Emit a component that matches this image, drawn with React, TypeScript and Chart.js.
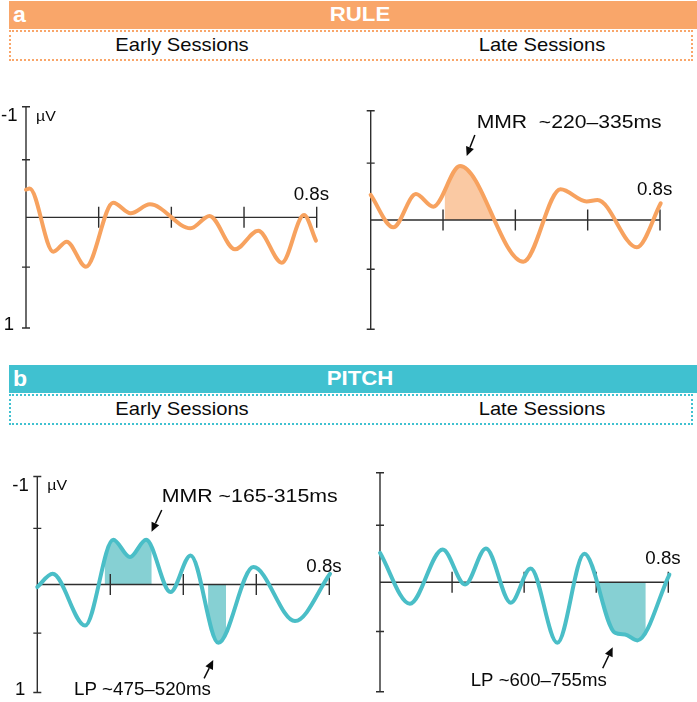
import React, { useEffect, useRef } from 'react';
import { Chart, registerables } from 'chart.js';

Chart.register(...registerables);

const W = 697;
const H = 702;
const FONT = '"Liberation Sans", Arial, Helvetica, sans-serif';

// ---------------- data (time in s, amplitude in µV; negative drawn up) ----------------
const ruleEarlyTime = [0, 0.01, 0.075, 0.112, 0.165, 0.24, 0.288, 0.341, 0.453, 0.505, 0.575, 0.639, 0.704, 0.765, 0.798];
const ruleEarlyAmp = [-0.25, -0.26, 0.31, 0.22, 0.446, -0.132, -0.037, -0.118, 0.099, -0.012, 0.289, 0.121, 0.41, -0.021, 0.211];

const ruleLateTime = [0, 0.0625, 0.125, 0.173, 0.247, 0.422, 0.525, 0.597, 0.627, 0.736, 0.802];
const ruleLateAmp = [-0.229, 0.067, -0.238, -0.122, -0.494, 0.382, -0.281, -0.17, -0.183, 0.25, -0.153];

const pitchEarlyTime = [0, 0.042, 0.131, 0.208, 0.254, 0.298, 0.365, 0.42, 0.496, 0.592, 0.706, 0.802];
const pitchEarlyAmp = [0.024, -0.099, 0.38, -0.414, -0.254, -0.414, 0.07, -0.269, 0.54, -0.161, 0.339, -0.099];

const pitchLateTime = [0, 0.083, 0.174, 0.236, 0.294, 0.363, 0.418, 0.492, 0.567, 0.652, 0.68, 0.714, 0.803];
const pitchLateAmp = [-0.268, 0.197, -0.299, 0.021, -0.308, 0.188, -0.125, 0.553, -0.259, 0.462, 0.478, 0.532, -0.07];

// shaded windows [from, to] in s
const ruleLateMMR = [0.205, 0.36];
const pitchEarlyMMR = [0.185, 0.313];
const pitchEarlyLP = [0.468, 0.517];
const pitchLateLP = [0.6, 0.737];

const xTickValues = [0.2, 0.4, 0.6, 0.8];
const yTickValues = [-1, -0.52, 0.45, 1];
const yTopLabel = '-1';
const yBottomLabel = '1';
const yUnit = 'µV';
const xEndLabel = '0.8s';
const sessionLabels = ['Early Sessions', 'Late Sessions'];
const panelTitles = ['RULE', 'PITCH'];
const panelLetters = ['a', 'b'];

// ---------------- styles ----------------
const ORANGE_LINE = '#F7A25F';
const ORANGE_BAR = '#F9A66A';
const ORANGE_FILL = '#FAC9A3';
const TEAL_LINE = '#4ABEC7';
const TEAL_BAR = '#40C1D0';
const TEAL_FILL = '#86D0D3';
const AXIS = '#2e2e2e';
const INK = '#0a0a0a';

type Fill = { range: number[]; side: number };
type Note = { text: string; t: number; v: number; width: number };
type Arrow = { t1: number; v1: number; t2: number; v2: number };
type Plot = {
  time: number[];
  amp: number[];
  color: string;
  fillColor: string;
  fills: Fill[];
  area: { left: number; top: number; right: number; bottom: number };
  axisLabels: boolean;
  endDy: number;
  notes: Note[];
  arrows: Arrow[];
};

const plots: Plot[] = [
  {
    time: ruleEarlyTime, amp: ruleEarlyAmp, color: ORANGE_LINE, fillColor: ORANGE_FILL, fills: [],
    area: { left: 26, top: 106.7, right: 316.7, bottom: 328 }, axisLabels: true, endDy: -23.5,
    notes: [], arrows: [],
  },
  {
    time: ruleLateTime, amp: ruleLateAmp, color: ORANGE_LINE, fillColor: ORANGE_FILL,
    fills: [{ range: ruleLateMMR, side: -1 }],
    area: { left: 370.7, top: 110.7, right: 660, bottom: 329.3 }, axisLabels: false, endDy: -31,
    notes: [{ text: 'MMR  ~220–335ms', t: 0.293, v: -0.899, width: 185 }],
    arrows: [{ t1: 0.288, v1: -0.778, t2: 0.2655, v2: -0.586 }],
  },
  {
    time: pitchEarlyTime, amp: pitchEarlyAmp, color: TEAL_LINE, fillColor: TEAL_FILL,
    fills: [{ range: pitchEarlyMMR, side: -1 }, { range: pitchEarlyLP, side: 1 }],
    area: { left: 37.3, top: 476.5, right: 329.3, bottom: 692.5 }, axisLabels: true, endDy: -19,
    notes: [
      { text: 'MMR ~165-315ms', t: 0.341, v: -0.829, width: 176 },
      { text: 'LP ~475–520ms', t: 0.1005, v: 0.958, width: 137 },
    ],
    arrows: [
      { t1: 0.341, v1: -0.69, t2: 0.313, v2: -0.489 },
      { t1: 0.457, v1: 0.869, t2: 0.482, v2: 0.699 },
    ],
  },
  {
    time: pitchLateTime, amp: pitchLateAmp, color: TEAL_LINE, fillColor: TEAL_FILL,
    fills: [{ range: pitchLateLP, side: 1 }],
    area: { left: 380, top: 472.7, right: 668.3, bottom: 691.7 }, axisLabels: false, endDy: -24.4,
    notes: [{ text: 'LP ~600–755ms', t: 0.2517, v: 0.884, width: 136 }],
    arrows: [{ t1: 0.618, v1: 0.786, t2: 0.6457, v2: 0.595 }],
  },
];

function drawText(
  ctx: CanvasRenderingContext2D, s: string, x: number, yMid: number, size: number,
  align: CanvasTextAlign, width?: number, stretch = 1.06,
) {
  ctx.save();
  ctx.font = `${size}px ${FONT}`;
  const w = ctx.measureText(s).width;
  const k = width ? width / w : stretch;
  ctx.translate(x, yMid + 0.358 * size);
  ctx.scale(k, 1);
  ctx.textAlign = align;
  ctx.textBaseline = 'alphabetic';
  ctx.fillStyle = INK;
  ctx.fillText(s, 0, 0);
  ctx.restore();
}

function makePlugin(p: Plot) {
  return {
    id: 'erpDecor',
    beforeDatasetsDraw(chart: any) {
      const ctx: CanvasRenderingContext2D = chart.ctx;
      const xs = chart.scales.x;
      const ys = chart.scales.y;
      const meta = chart.getDatasetMeta(0);
      const line = meta.dataset;
      if (line && line.updateControlPoints) line.updateControlPoints(chart.chartArea, 'x');
      const zeroY = ys.getPixelForValue(0);
      const pts = meta.data;
      for (const f of p.fills) {
        const x1 = xs.getPixelForValue(f.range[0]);
        const x2 = xs.getPixelForValue(f.range[1]);
        ctx.save();
        ctx.beginPath();
        if (f.side < 0) ctx.rect(x1, 0, x2 - x1, zeroY);
        else ctx.rect(x1, zeroY, x2 - x1, chart.height - zeroY);
        ctx.clip();
        ctx.beginPath();
        line.path(ctx);
        ctx.lineTo(pts[pts.length - 1].x, zeroY);
        ctx.lineTo(pts[0].x, zeroY);
        ctx.closePath();
        ctx.fillStyle = p.fillColor;
        ctx.fill();
        ctx.restore();
      }
      // axes
      const x0 = xs.getPixelForValue(0);
      const xEnd = xs.getPixelForValue(0.8);
      const yTop = ys.getPixelForValue(-1);
      const yBot = ys.getPixelForValue(1);
      ctx.save();
      ctx.strokeStyle = AXIS;
      ctx.lineWidth = 1.4;
      ctx.beginPath();
      ctx.moveTo(x0, yTop);
      ctx.lineTo(x0, yBot);
      for (const v of yTickValues) {
        const y = ys.getPixelForValue(v);
        ctx.moveTo(x0 - 4, y);
        ctx.lineTo(x0 + 4, y);
      }
      ctx.moveTo(x0, zeroY);
      ctx.lineTo(xEnd, zeroY);
      for (const t of xTickValues) {
        const x = xs.getPixelForValue(t);
        ctx.moveTo(x, zeroY - 10.5);
        ctx.lineTo(x, zeroY + 10.5);
      }
      ctx.stroke();
      ctx.restore();
    },
    afterDatasetsDraw(chart: any) {
      const ctx: CanvasRenderingContext2D = chart.ctx;
      const xs = chart.scales.x;
      const ys = chart.scales.y;
      const x0 = xs.getPixelForValue(0);
      const xEnd = xs.getPixelForValue(0.8);
      const yTop = ys.getPixelForValue(-1);
      const yBot = ys.getPixelForValue(1);
      const zeroY = ys.getPixelForValue(0);
      if (p.axisLabels) {
        drawText(ctx, yTopLabel, x0 - 8.5, yTop + 8, 17.5, 'right');
        drawText(ctx, yUnit, x0 + 10, yTop + 8.5, 15, 'left');
        drawText(ctx, yBottomLabel, x0 - 12, yBot - 4, 17.5, 'right');
      }
      drawText(ctx, xEndLabel, xEnd - 23, zeroY + p.endDy, 17.5, 'left', undefined, 1.07);
      for (const n of p.notes) {
        drawText(ctx, n.text, xs.getPixelForValue(n.t), ys.getPixelForValue(n.v), 18.5, 'left', n.width);
      }
      for (const a of p.arrows) {
        const ax = xs.getPixelForValue(a.t1), ay = ys.getPixelForValue(a.v1);
        const bx = xs.getPixelForValue(a.t2), by = ys.getPixelForValue(a.v2);
        const len = Math.hypot(bx - ax, by - ay);
        const dx = (bx - ax) / len, dy = (by - ay) / len;
        const hl = 9, hw = 4.2;
        const cx = bx - dx * hl, cy = by - dy * hl;
        ctx.save();
        ctx.strokeStyle = INK;
        ctx.fillStyle = INK;
        ctx.lineWidth = 1.5;
        ctx.beginPath();
        ctx.moveTo(ax, ay);
        ctx.lineTo(cx, cy);
        ctx.stroke();
        ctx.beginPath();
        ctx.moveTo(bx, by);
        ctx.lineTo(cx - dy * hw, cy + dx * hw);
        ctx.lineTo(cx + dy * hw, cy - dx * hw);
        ctx.closePath();
        ctx.fill();
        ctx.restore();
      }
    },
  };
}

function ErpChart({ plot }: { plot: Plot }) {
  const ref = useRef<HTMLCanvasElement | null>(null);
  useEffect(() => {
    if (!ref.current) return;
    const a = plot.area;
    const chart = new Chart(ref.current, {
      type: 'line',
      data: {
        datasets: [
          {
            data: plot.time.map((t, i) => ({ x: t, y: plot.amp[i] })),
            borderColor: plot.color,
            borderWidth: 4,
            pointRadius: 0,
            pointHoverRadius: 0,
            cubicInterpolationMode: 'monotone',
            fill: false,
            clip: false as any,
            borderCapStyle: 'round',
            borderJoinStyle: 'round',
          } as any,
        ],
      },
      options: {
        animation: false,
        responsive: false,
        maintainAspectRatio: false,
        events: [],
        layout: { padding: { left: a.left, top: a.top, right: W - a.right, bottom: H - a.bottom } },
        scales: {
          x: { type: 'linear', min: 0, max: 0.8, display: false },
          y: { type: 'linear', min: -1, max: 1, reverse: true, display: false },
        },
        plugins: { legend: { display: false }, tooltip: { enabled: false } },
      },
      plugins: [makePlugin(plot) as any],
    });
    return () => chart.destroy();
  }, [plot]);
  return (
    <canvas
      ref={ref}
      width={W}
      height={H}
      style={{ position: 'absolute', left: 0, top: 0, width: W, height: H }}
    />
  );
}

function Label({ text, x, y, size, scale, bold, color, left }: any) {
  return (
    <div
      style={{
        position: 'absolute',
        left: x,
        top: y,
        fontFamily: FONT,
        fontSize: size,
        lineHeight: 1,
        fontWeight: bold ? 700 : 400,
        color: color || INK,
        whiteSpace: 'nowrap',
        transformOrigin: left ? '0 50%' : '50% 50%',
        transform: left ? `translateY(-50%) scaleX(${scale || 1})` : `translate(-50%, -50%) scaleX(${scale || 1})`,
      }}
    >
      {text}
    </div>
  );
}

function Header({ idx, top, barColor }: { idx: number; top: number; barColor: string }) {
  return (
    <>
      <div style={{ position: 'absolute', left: 9, top, width: W - 9, height: 28, background: barColor }} />
      <Label text={panelLetters[idx]} x={12.5} y={top + 14} size={22} bold color="#fff" left scale={1.05} />
      <Label text={panelTitles[idx]} x={360} y={top + 14} size={19.5} bold color="#fff" scale={1.14} />
      <div
        style={{
          position: 'absolute', left: 9, top: top + 29, width: 684, height: 31,
          border: `2px dotted ${barColor}`, boxSizing: 'border-box',
        }}
      />
      <Label text={sessionLabels[0]} x={181.5} y={top + 44} size={18.5} scale={1.09} />
      <Label text={sessionLabels[1]} x={541.5} y={top + 43.5} size={18.5} scale={1.09} />
    </>
  );
}

export default function App() {
  return (
    <div style={{ position: 'absolute', left: 0, top: 0, width: W, height: H, background: '#fff', overflow: 'hidden' }}>
      <Header idx={0} top={1} barColor={ORANGE_BAR} />
      <Header idx={1} top={365} barColor={TEAL_BAR} />
      {plots.map((p, i) => (
        <ErpChart key={i} plot={p} />
      ))}
    </div>
  );
}
